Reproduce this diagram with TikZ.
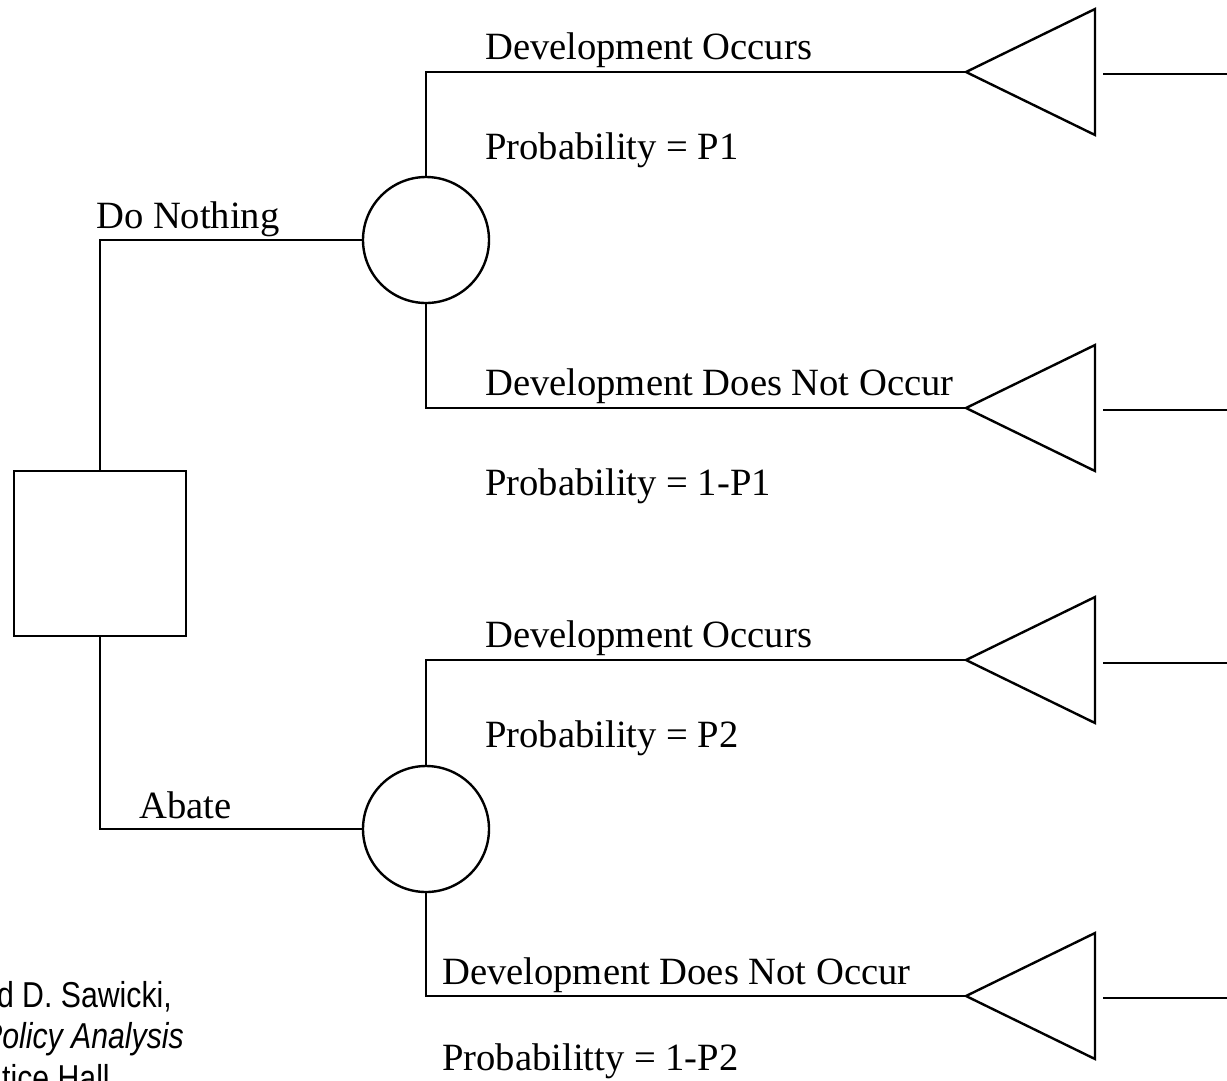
\documentclass[tikz,border=0pt]{standalone}
\usepackage{fontspec}
\setmainfont{Liberation Serif}
\newfontfamily\srcfont[FakeStretch=0.84]{Liberation Sans}
\begin{document}
\begin{tikzpicture}[x=1pt,y=-1pt,line width=2.4pt,
  lbl/.style={anchor=base west,inner sep=0pt,font=\fontsize{38.6}{40}\selectfont},
  srclbl/.style={inner sep=0pt,font=\srcfont\fontsize{36}{40}\selectfont},
  chance/.style={draw,circle,minimum size=126pt,inner sep=0pt},
  decision/.style={draw,rectangle,minimum width=172pt,minimum height=165pt,inner sep=0pt}]
\useasboundingbox (0,0) rectangle (1227,1080);

% nodes
\node[decision] (box) at (100,553.5) {};
\node[chance] (c1) at (426,240) {};
\node[chance] (c2) at (426,829) {};

% triangle tips and outcome line ends
\coordinate (t1) at (966,72);
\coordinate (t2) at (966,408);
\coordinate (t3) at (966,660);
\coordinate (t4) at (966,996);

\foreach \t/\y in {t1/72,t2/408,t3/660,t4/996}{
  \draw (\t) -- (1095,\y-63) -- (1095,\y+63) -- cycle;
}
\coordinate (o1a) at (1103,74);  \coordinate (o1b) at (1227,74);
\coordinate (o2a) at (1103,410); \coordinate (o2b) at (1227,410);
\coordinate (o3a) at (1103,663); \coordinate (o3b) at (1227,663);
\coordinate (o4a) at (1103,998); \coordinate (o4b) at (1227,998);
\draw (o1a) -- (o1b);
\draw (o2a) -- (o2b);
\draw (o3a) -- (o3b);
\draw (o4a) -- (o4b);

% connectors
\draw (box.north) |- (c1.west);
\draw (box.south) |- (c2.west);
\draw (c1.north) |- (t1);
\draw (c1.south) |- (t2);
\draw (c2.north) |- (t3);
\draw (c2.south) |- (t4);

% labels
\node[lbl] (l1) at (484,59) {Development Occurs};
\node[lbl] (p1) at (484,159) {Probability = P1};
\node[lbl] (dn) at (95,228) {Do Nothing};
\node[lbl] (l2) at (484,395) {Development Does Not Occur};
\node[lbl] (p2) at (484,495) {Probability = 1-P1};
\node[lbl] (l3) at (484,647) {Development Occurs};
\node[lbl] (p3) at (484,747) {Probability = P2};
\node[lbl] (ab) at (138,818) {Abate};
\node[lbl] (l4) at (441,984) {Development Does Not Occur};
\node[lbl] (p4) at (441,1070) {Probabilitty = 1-P2};

% source text (cut by page edges, as in the reference)
\node[srclbl,anchor=base east] (s1) at (173,1007) {d D. Sawicki,};
\node[srclbl,anchor=base east] (s2) at (185,1048) {\itshape Policy Analysis};
\node[srclbl,anchor=base west] (s3) at (1,1090) {tice Hall};
\end{tikzpicture}
\end{document}
